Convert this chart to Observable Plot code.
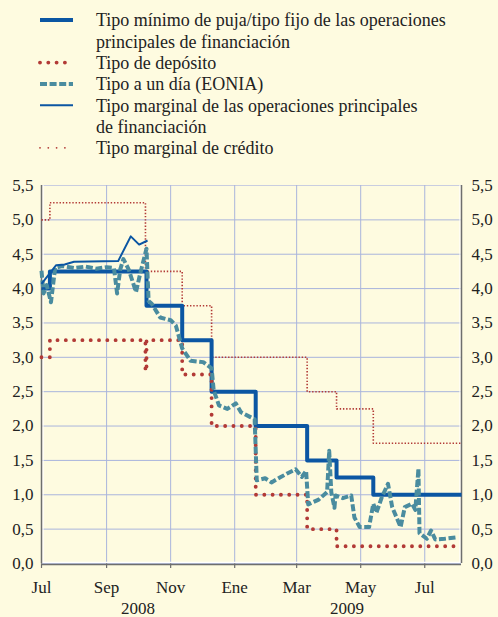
<!DOCTYPE html>
<html><head><meta charset="utf-8">
<script src="https://cdn.jsdelivr.net/npm/d3@7"></script>
<script src="https://cdn.jsdelivr.net/npm/@observablehq/plot@0.6"></script>
<style>
html,body{margin:0;padding:0;background:#fefbe0;}
#wrap{position:relative;width:498px;height:617px;overflow:hidden;font-family:"Liberation Serif","Times New Roman",serif;}
#legend{position:absolute;left:0;top:0;}
#chart{position:absolute;left:0;top:170px;}
</style></head><body><div id="wrap"><svg id="legend" width="498" height="170"></svg><div id="chart"></div></div>
<script>
// ---- data ----
const mroDates = ["2008-07-01","2008-07-09","2008-10-09","2008-11-12","2008-12-10","2009-01-21","2009-03-11","2009-04-08","2009-05-13","2009-08-05"];
const mroValues = [4.00,4.25,3.75,3.25,2.50,2.00,1.50,1.25,1.00,1.00];

const depDates = ["2008-07-01","2008-07-09","2008-10-08","2008-10-09","2008-11-12","2008-12-10","2009-01-21","2009-03-11","2009-04-08","2009-08-05"];
const depValues = [3.00,3.25,2.80,3.25,2.75,2.00,1.00,0.50,0.25,0.25];

const lendDates = ["2008-07-01","2008-07-09","2008-10-08","2008-11-12","2008-12-10","2009-03-11","2009-04-08","2009-05-13","2009-08-05"];
const lendValues = [5.00,5.25,4.25,3.75,3.00,2.50,2.25,1.75,1.75];

const margDates = ["2008-07-01","2008-07-15","2008-07-23","2008-08-01","2008-09-12","2008-09-24","2008-10-02","2008-10-10"];
const margValues = [4.07,4.34,4.35,4.39,4.40,4.76,4.64,4.70];

const eoniaDates = ["2008-07-01","2008-07-03","2008-07-06","2008-07-10","2008-07-14","2008-07-21","2008-08-01","2008-08-12","2008-08-22","2008-09-01","2008-09-08","2008-09-11","2008-09-14","2008-09-17","2008-09-22","2008-09-29","2008-10-03","2008-10-09","2008-10-11","2008-10-14","2008-10-22","2008-11-01","2008-11-06","2008-11-12","2008-11-20","2008-12-02","2008-12-10","2008-12-12","2008-12-17","2008-12-25","2009-01-02","2009-01-07","2009-01-16","2009-01-20","2009-01-22","2009-01-30","2009-02-05","2009-02-13","2009-02-20","2009-02-28","2009-03-06","2009-03-10","2009-03-12","2009-03-22","2009-03-30","2009-04-01","2009-04-03","2009-04-06","2009-04-07","2009-04-14","2009-04-22","2009-04-25","2009-04-30","2009-05-09","2009-05-13","2009-05-16","2009-05-21","2009-05-27","2009-05-31","2009-06-08","2009-06-12","2009-06-19","2009-06-22","2009-06-25","2009-06-26","2009-07-03","2009-07-07","2009-07-11","2009-07-20","2009-07-31"];
const eoniaValues = [4.26,3.93,4.05,3.80,4.30,4.33,4.30,4.32,4.29,4.31,4.30,3.93,4.28,4.43,4.28,3.95,4.22,4.58,3.82,3.78,3.58,3.54,3.46,3.13,2.95,2.93,2.84,2.52,2.30,2.25,2.33,2.20,2.13,2.10,1.21,1.24,1.18,1.25,1.31,1.37,1.26,1.35,0.86,0.93,1.04,1.64,1.04,0.81,0.99,0.95,0.99,0.67,0.53,0.53,0.87,0.74,0.96,1.16,0.82,0.53,0.82,0.87,0.78,1.38,0.44,0.36,0.48,0.35,0.36,0.38];

const xDomain = ["2008-07-01","2009-08-05"];
const yTicks = [0,0.5,1,1.5,2,2.5,3,3.5,4,4.5,5,5.5];
const monthTicks = ["2008-07-01","2008-09-01","2008-11-01","2009-01-01","2009-03-01","2009-05-01","2009-07-01"];
const monthLabels = ["Jul","Sep","Nov","Ene","Mar","May","Jul"];
const yearLabels = ["2008","2009"];
const yearCenters = ["2008-10-01","2009-04-18"];

const legendLabels = [
  ["Tipo mínimo de puja/tipo fijo de las operaciones","principales de financiación"],
  ["Tipo de depósito"],
  ["Tipo a un día (EONIA)"],
  ["Tipo marginal de las operaciones principales","de financiación"],
  ["Tipo marginal de crédito"]
];

// ---- styles ----
const BLUE = "#0b56a3", RED = "#b23a36", TEAL = "#4a8c9f", GRID = "#a9b4dc", AXIS = "#6e6e6e";
const styles = [
  {stroke: BLUE, width: 4, dash: null, cap: "butt"},
  {stroke: RED, width: 3.9, dash: "0 8.3", cap: "round"},
  {stroke: TEAL, width: 4, dash: "7 2.6", cap: "butt"},
  {stroke: BLUE, width: 2, dash: null, cap: "butt"},
  {stroke: RED, width: 1.8, dash: "0 8.3", cap: "round"}
];

const P = d3.utcParse("%Y-%m-%d");
const rows = (ds, vs) => ds.map((d, i) => ({date: P(d), value: vs[i]}));
const mro = rows(mroDates, mroValues);
const dep = rows(depDates, depValues);
const lend = rows(lendDates, lendValues);
const marg = rows(margDates, margValues);
const eonia = rows(eoniaDates, eoniaValues);

// ---- legend ----
const lg = d3.select("#legend");
let lineIdx = 0;
const y0 = 20, step = 21.3;
legendLabels.forEach((lines, k) => {
  const y = y0 + lineIdx * step;
  const s = styles[k];
  const ln = lg.append("line").attr("x1", 40).attr("x2", 73).attr("y1", y).attr("y2", y)
    .attr("stroke", s.stroke).attr("stroke-width", s.width).attr("stroke-linecap", s.cap);
  if (s.dash) ln.attr("stroke-dasharray", s.dash);
  lines.forEach((t, j) => {
    lg.append("text").attr("x", 96).attr("y", y0 + (lineIdx + j) * step).attr("dy", "0.35em")
      .attr("font-family", '"Liberation Serif","Times New Roman",serif').attr("font-size", 18)
      .attr("fill", "#222").text(t);
  });
  lineIdx += lines.length;
});

// ---- chart ----
const fmt = d => d.toFixed(1).replace(".", ",");
const monthMap = new Map(monthTicks.map((d, i) => [+P(d), monthLabels[i]]));
const xs = xDomain.map(P);
const years = yearLabels.map((t, i) => ({date: P(yearCenters[i]), text: t}));

const lineOpts = (s, extra = {}) => ({x: "date", y: "value", stroke: s.stroke, strokeWidth: s.width,
  strokeDasharray: s.dash || undefined, strokeLinecap: s.cap, ...extra});

const chart = Plot.plot({
  width: 498, height: 447,
  marginTop: 15, marginBottom: 54, marginLeft: 41, marginRight: 37,
  style: {background: "transparent", fontFamily: '"Liberation Serif","Times New Roman",serif', fontSize: "17px", color: "#222"},
  x: {type: "utc", domain: xs},
  y: {domain: [0, 5.5]},
  marks: [
    Plot.gridY(yTicks.filter(d => d < 5.5), {stroke: GRID, strokeOpacity: 1, strokeWidth: 1}),
    Plot.gridY([5.5], {stroke: "#c9cde0", strokeOpacity: 1, strokeWidth: 1.2}),
    Plot.gridX(monthTicks.slice(1).map(P), {stroke: GRID, strokeOpacity: 1, strokeWidth: 1}),
    Plot.axisY(yTicks, {anchor: "left", tickSize: 0, tickPadding: 8, tickFormat: fmt, fontSize: 17, label: null}),
    Plot.axisY(yTicks, {anchor: "right", tickSize: 0, tickPadding: 10, tickFormat: fmt, fontSize: 17, label: null}),
    Plot.axisX(monthTicks.map(P), {anchor: "bottom", tickSize: 5, tickPadding: 12, stroke: AXIS, strokeWidth: 1.2,
      tickFormat: d => monthMap.get(+d), fontSize: 17, label: null}),
    Plot.text(years, {x: "date", y: () => 0, text: "text", dy: 45, fontSize: 17, fill: "#222"}),
    Plot.ruleY([0], {stroke: "white", strokeWidth: 1.5, dy: -1}),
    Plot.ruleY([0], {stroke: AXIS, strokeWidth: 1.5, dy: 1}),
    Plot.ruleX([xs[0]], {stroke: "white", strokeWidth: 1.2, dx: 1.5}),
    Plot.ruleX([xs[0]], {stroke: AXIS, strokeWidth: 1.5}),
    Plot.ruleX([xs[1]], {stroke: "white", strokeWidth: 1.2, dx: -1.5}),
    Plot.ruleX([xs[1]], {stroke: AXIS, strokeWidth: 1.5}),
    Plot.line(lend, lineOpts({...styles[4], dash: "1.4 1.8", cap: "butt", width: 1.6}, {curve: "step-after"})),
    Plot.line(mro, lineOpts(styles[0], {curve: "step-after"})),
    Plot.line(dep, lineOpts(styles[1], {curve: "step-after"})),
    Plot.line(eonia, lineOpts(styles[2])),
    Plot.line(marg, lineOpts(styles[3]))
  ]
});
document.getElementById("chart").appendChild(chart);
</script></body></html>
